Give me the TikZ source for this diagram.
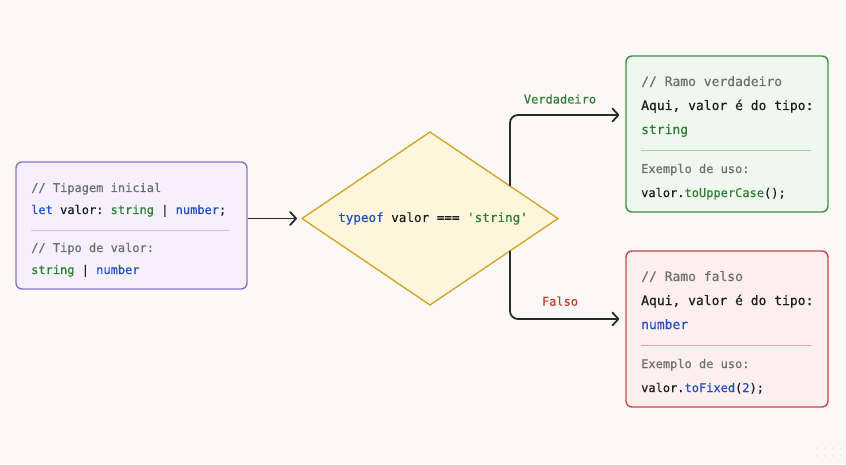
\documentclass[tikz,border=0pt]{standalone}
\usepackage{fontspec}
\setmonofont{DejaVu Sans Mono}[FakeBold=0.4]
\usepackage{xcolor}
\usetikzlibrary{shapes.geometric}
\usetikzlibrary{arrows.meta}
\usetikzlibrary{calc}

\definecolor{bgpaper}{HTML}{FAF9F7}
\definecolor{inkdark}{HTML}{1C1C1C}
\definecolor{linedark}{HTML}{2B2B2B}
\definecolor{cmtgray}{HTML}{6E6E6E}
\definecolor{kwblue}{HTML}{1F4FC4}
\definecolor{strgreen}{HTML}{2E7D32}
\definecolor{falsered}{HTML}{C0392B}
\definecolor{lavfill}{HTML}{F4F1FC}
\definecolor{lavdraw}{HTML}{8877C9}
\definecolor{lavrule}{HTML}{CBC3E8}
\definecolor{goldfill}{HTML}{FFF6DC}
\definecolor{golddraw}{HTML}{D8A52C}
\definecolor{grnfill}{HTML}{EEF8EE}
\definecolor{grndraw}{HTML}{3F8E43}
\definecolor{grnrule}{HTML}{A3D1A3}
\definecolor{redfill}{HTML}{FDEFEF}
\definecolor{reddraw}{HTML}{C9434B}
\definecolor{redrule}{HTML}{E9A3A6}

\newcommand{\kwd}[1]{\textcolor{kwblue}{#1}}
\newcommand{\strg}[1]{\textcolor{strgreen}{#1}}
\newcommand{\cmtt}[1]{\textcolor{cmtgray}{#1}}

\tikzset{
  codebox/.style={rectangle, rounded corners=6pt, line width=1.4pt, inner sep=0pt},
  codeline/.style={anchor=base west, inner sep=0pt, text=inkdark, font=\ttfamily\fontsize{12}{14}\selectfont},
  bigline/.style={codeline, font=\ttfamily\fontsize{13}{15}\selectfont},
  flowarrow/.style={linedark, line width=1.8pt, rounded corners=8pt, -{Straight Barb[length=6pt,width=13pt,round]}},
  branchlabel/.style={anchor=base, inner sep=0pt, font=\ttfamily\fontsize{12}{14}\selectfont}
}

\begin{document}
\begin{tikzpicture}
\fill[bgpaper] (0,0) rectangle (846pt,464pt);
\useasboundingbox (0,0) rectangle (846pt,464pt);

% left box
\node[codebox, draw=lavdraw, fill=lavfill, minimum width=231pt, minimum height=127pt] (lbox) at (131.5pt,238.5pt) {};
\node[codeline] (l1) at (31pt,272pt) {\cmtt{// Tipagem inicial}};
\node[codeline] (l2) at (31pt,250pt) {\kwd{let} valor: \strg{string} | \kwd{number};};
\draw[lavrule, line width=0.8pt] (31pt,234pt) -- (229pt,234pt);
\node[codeline] (l3) at (31pt,212pt) {\cmtt{// Tipo de valor:}};
\node[codeline] (l4) at (31pt,190pt) {\strg{string} | \kwd{number}};

% diamond
\node[diamond, draw=golddraw, fill=goldfill, line width=1.4pt, inner sep=0pt, outer sep=0pt, aspect=1.48, minimum width=256pt, minimum height=173pt] (dia) at (430pt,245.5pt) {};
\node[codeline, anchor=center, font=\ttfamily\fontsize{12.6}{14}\selectfont] (cond) at (433pt,245.5pt) {\kwd{typeof} valor === \strg{'string'}};

% true branch
\node[codebox, draw=grndraw, fill=grnfill, minimum width=202pt, minimum height=156pt] (gbox) at (727pt,330pt) {};
\node[bigline] (g1) at (641pt,378pt) {\cmtt{// Ramo verdadeiro}};
\node[bigline] (g2) at (641pt,354pt) {Aqui, valor é do tipo:};
\node[bigline] (g3) at (641pt,330pt) {\strg{string}};
\draw[grnrule, line width=0.8pt] (641pt,314pt) -- (811pt,314pt);
\node[codeline] (g4) at (641pt,291pt) {\cmtt{Exemplo de uso:}};
\node[codeline] (g5) at (641pt,267pt) {valor.\strg{toUpperCase}();};

% false branch
\node[codebox, draw=reddraw, fill=redfill, minimum width=202pt, minimum height=156pt] (rbox) at (727pt,135pt) {};
\node[bigline] (r1) at (641pt,183pt) {\cmtt{// Ramo falso}};
\node[bigline] (r2) at (641pt,159pt) {Aqui, valor é do tipo:};
\node[bigline] (r3) at (641pt,135pt) {\kwd{number}};
\draw[redrule, line width=0.8pt] (641pt,119pt) -- (811pt,119pt);
\node[codeline] (r4) at (641pt,96pt) {\cmtt{Exemplo de uso:}};
\node[codeline] (r5) at (641pt,72pt) {valor.\kwd{toFixed}(\kwd{2});};

% connectors
\coordinate (gin) at ($(gbox.west)+(0,19pt)$);
\coordinate (rin) at ($(rbox.west)+(0,10pt)$);
\draw[flowarrow, shorten >=5pt] (lbox.east |- dia.west) -- (dia.west);
\draw[flowarrow, shorten >=6pt] ($(dia.north)!0.625!(dia.east)$) |- (gin);
\draw[flowarrow, shorten >=6pt] ($(dia.south)!0.625!(dia.east)$) |- (rin);
\node[branchlabel, text=strgreen] (vlab) at (560pt,360.5pt) {Verdadeiro};
\node[branchlabel, text=falsered] (flab) at (560pt,158.3pt) {Falso};

% corner dots
\foreach \dx in {817,825,833,841}
  \foreach \dy in {8,16}
    \fill[black!22] (\dx pt,\dy pt) circle (0.6pt);
\end{tikzpicture}
\end{document}
